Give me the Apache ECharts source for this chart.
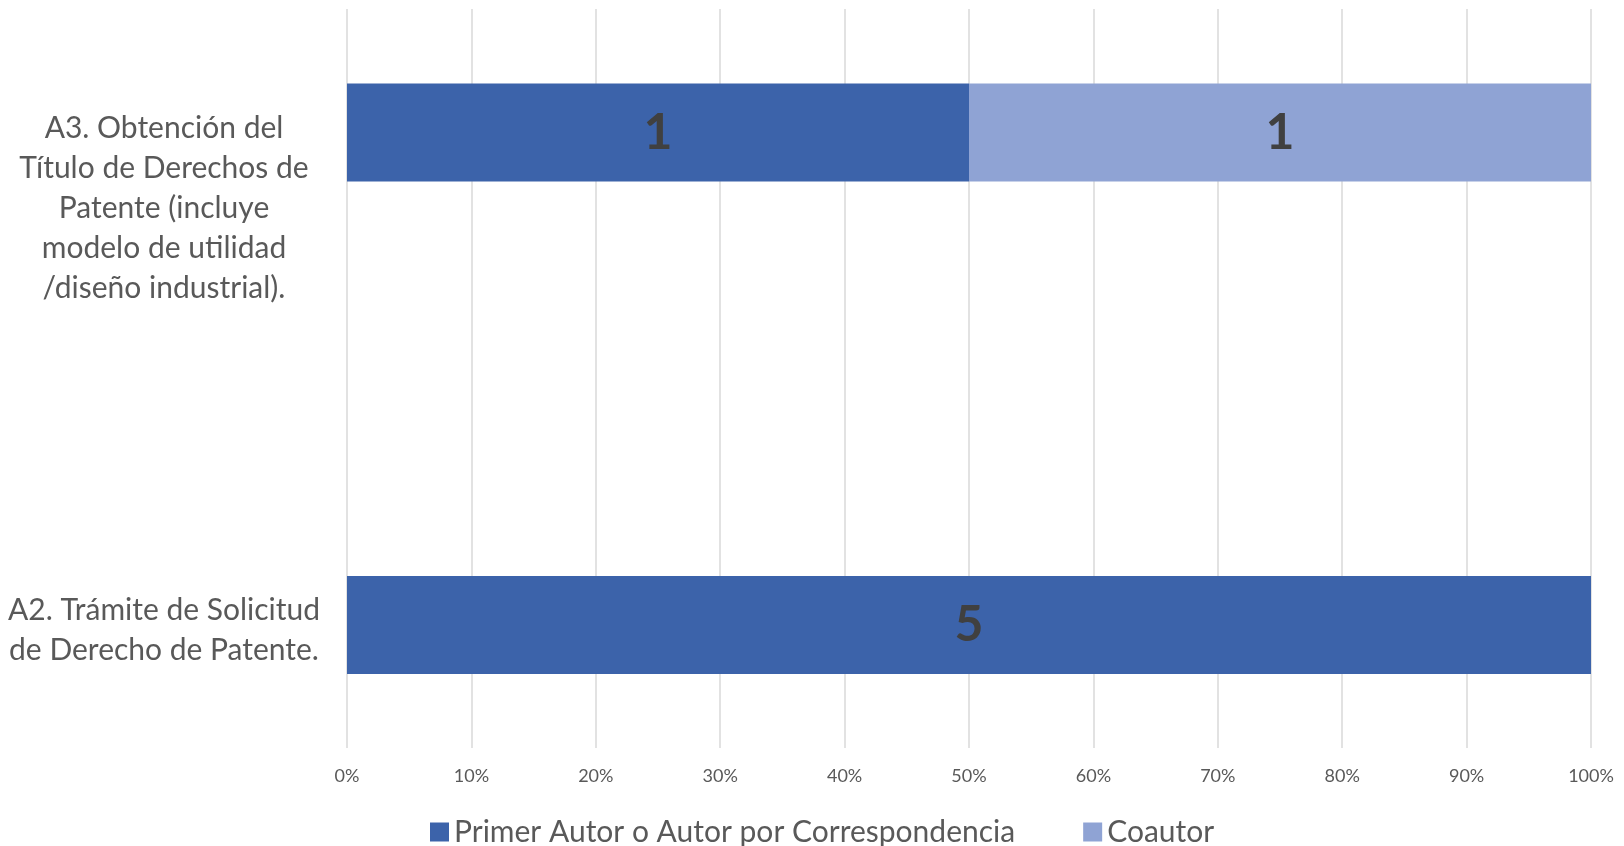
<!DOCTYPE html>
<html>
<head>
<meta charset="utf-8">
<title>Patentes</title>
<script src="https://cdn.jsdelivr.net/npm/echarts@6/dist/echarts.min.js"></script>
<style>
  html, body { margin: 0; padding: 0; background: #fff; }
  #chart { width: 1624px; height: 846px; }
</style>
</head>
<body>
<div id="chart"></div>
<script>
// categorías (de abajo hacia arriba)
const categories = [
  'A2. Trámite de Solicitud\nde Derecho de Patente.',
  'A3. Obtención del\nTítulo de Derechos de\nPatente (incluye\nmodelo de utilidad\n/diseño industrial).'
]
// conteos por tipo de autor
const primerAutor = [5, 1]
const coautor = [0, 1]
const seriesNames = ['Primer Autor o Autor por Correspondencia', 'Coautor']
const xTicks = [0, 10, 20, 30, 40, 50, 60, 70, 80, 90, 100]

const FONT = 'Lato, "Open Sans", sans-serif'

// porcentaje de cada conteo sobre el total de la categoría
const toPct = (arr) => arr.map((v, i) => {
  const total = primerAutor[i] + coautor[i]
  return total ? v / total * 100 : 0
})

const barLabel = (counts) => ({
  show: true,
  position: 'inside',
  fontFamily: FONT,
  fontSize: 50,
  fontWeight: 'bold',
  color: '#404040',
  formatter: (p) => counts[p.dataIndex] ? String(counts[p.dataIndex]) : ''
})

const chart = echarts.init(document.getElementById('chart'))
const option = {
  backgroundColor: '#ffffff',
  animation: false,
  grid: [
    // rejilla del eje de porcentajes
    { left: 347, right: 33, top: 9, bottom: 98, outerBoundsMode: 'none' },
    // rejilla de las barras
    { left: 347, right: 33, top: -113.75, bottom: -25.25, outerBoundsMode: 'none' }
  ],
  xAxis: [
    {
      gridIndex: 0,
      type: 'value',
      min: 0,
      max: 100,
      interval: 10,
      axisLine: { show: false },
      axisTick: { show: false },
      splitLine: { show: true, lineStyle: { color: '#d9d9d9', width: 1.5 } },
      axisLabel: {
        margin: 19,
        fontFamily: FONT,
        fontSize: 18,
        color: '#595959',
        formatter: (v) => xTicks.includes(v) ? v + '%' : ''
      }
    },
    {
      gridIndex: 1,
      type: 'value',
      min: 0,
      max: 100,
      show: false
    }
  ],
  yAxis: [
    { gridIndex: 0, type: 'value', show: false, min: 0, max: 1 },
    {
      gridIndex: 1,
      type: 'category',
      data: categories,
      axisLine: { show: false },
      axisTick: { show: false },
      axisLabel: {
        margin: 183,
        align: 'center',
        fontFamily: FONT,
        fontSize: 30,
        lineHeight: 40,
        color: '#595959',
        // línea vacía inicial para bajar el texto como en el original
        formatter: (v, i) => (i === 1 ? '{gapL| }\n' : '{gapS| }\n') + v,
        rich: {
          gapL: { lineHeight: 151, fontSize: 10 },
          gapS: { lineHeight: 10, fontSize: 10 }
        }
      }
    }
  ],
  legend: {
    left: 425,
    top: 812,
    itemWidth: 19,
    itemHeight: 19,
    itemGap: 68,
    icon: 'rect',
    textStyle: {
      fontFamily: FONT,
      fontSize: 30,
      color: '#595959'
    },
    data: seriesNames
  },
  series: [
    {
      name: seriesNames[0],
      type: 'bar',
      stack: 'total',
      xAxisIndex: 1,
      yAxisIndex: 1,
      barWidth: 98,
      itemStyle: { color: '#3c63aa' },
      label: barLabel(primerAutor),
      data: toPct(primerAutor)
    },
    {
      name: seriesNames[1],
      type: 'bar',
      stack: 'total',
      xAxisIndex: 1,
      yAxisIndex: 1,
      barWidth: 98,
      itemStyle: { color: '#8fa3d4' },
      label: barLabel(coautor),
      data: toPct(coautor)
    }
  ]
}
chart.setOption(option)
</script>
</body>
</html>
